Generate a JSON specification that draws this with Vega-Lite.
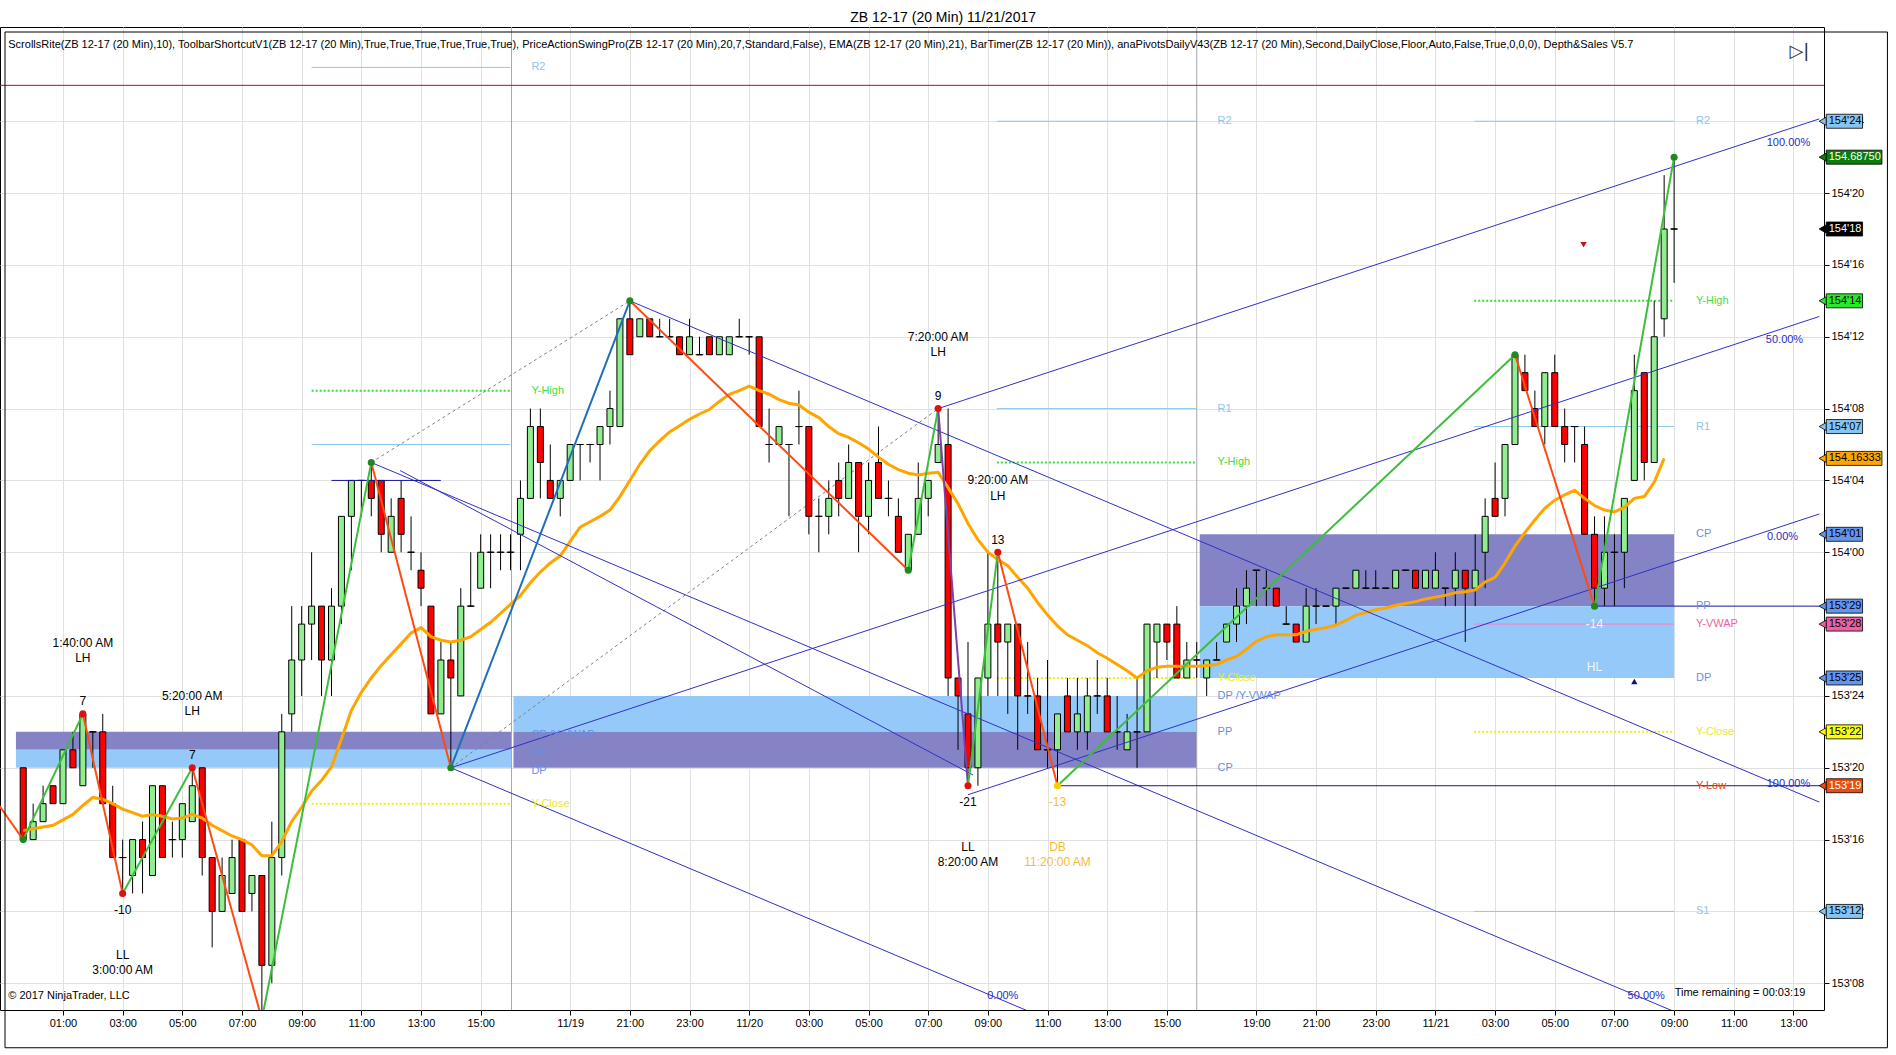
{
"$schema":"https://vega.github.io/schema/vega-lite/v6.json",
"width":1824,"height":983,"autosize":"none",
"padding":{"left":0,"top":27,"right":72,"bottom":45},
"background":"white",
"config":{"view":{"stroke":"#000000","strokeWidth":1},"axis":{"labelFont":"Liberation Sans","titleOpacity":0},"text":{"font":"Liberation Sans"}},
"resolve":{"scale":{"color":"independent","fill":"independent"}},
"datasets":{
"zones":[
{"i":-0.73,"i2":49.1,"p":153.6875,"p2":153.65625,"k":"pz"},
{"i":-0.73,"i2":49.1,"p":153.65625,"p2":153.625,"k":"bz"},
{"i":49.3,"i2":118.0,"p":153.75,"p2":153.6875,"k":"bz"},
{"i":49.3,"i2":118.0,"p":153.6875,"p2":153.625,"k":"pz"},
{"i":118.3,"i2":166.0,"p":154.03125,"p2":153.90625,"k":"pz"},
{"i":118.3,"i2":166.0,"p":153.90625,"p2":153.78125,"k":"bz"}],
"pivS":[
{"i":29.0,"i2":48.97,"p":154.84375,"k":"R"},
{"i":29.0,"i2":48.97,"p":154.1875,"k":"R"},
{"i":97.9,"i2":118.0,"p":154.75,"k":"R"},
{"i":97.9,"i2":118.0,"p":154.25,"k":"R"},
{"i":145.9,"i2":166.0,"p":154.75,"k":"R"},
{"i":145.9,"i2":166.0,"p":154.21875,"k":"R"},
{"i":145.9,"i2":166.0,"p":153.375,"k":"R"},
{"i":145.9,"i2":166.0,"p":153.875,"k":"vw"}],
"pivD":[
{"i":29.0,"i2":48.97,"p":154.28125,"k":"yh"},
{"i":29.0,"i2":48.97,"p":153.5625,"k":"yc"},
{"i":97.9,"i2":118.0,"p":154.15625,"k":"yh"},
{"i":97.9,"i2":118.0,"p":153.78125,"k":"yc"},
{"i":145.9,"i2":166.0,"p":154.4375,"k":"yh"},
{"i":145.9,"i2":166.0,"p":153.6875,"k":"yc"}],
"bars":[
{"i":0,"o":153.625,"h":153.625,"l":153.5,"c":153.5},
{"i":1,"o":153.5,"h":153.5625,"l":153.5,"c":153.53125},
{"i":2,"o":153.53125,"h":153.59375,"l":153.53125,"c":153.5625},
{"i":3,"o":153.59375,"h":153.59375,"l":153.5625,"c":153.5625},
{"i":4,"o":153.5625,"h":153.65625,"l":153.5625,"c":153.65625},
{"i":5,"o":153.65625,"h":153.6875,"l":153.625,"c":153.625},
{"i":6,"o":153.59375,"h":153.71875,"l":153.59375,"c":153.71875},
{"i":7,"o":153.6875,"h":153.6875,"l":153.625,"c":153.6875},
{"i":8,"o":153.6875,"h":153.71875,"l":153.5625,"c":153.5625},
{"i":9,"o":153.5625,"h":153.59375,"l":153.46875,"c":153.46875},
{"i":10,"o":153.46875,"h":153.5,"l":153.40625,"c":153.46875},
{"i":11,"o":153.4375,"h":153.5,"l":153.40625,"c":153.5},
{"i":12,"o":153.5,"h":153.53125,"l":153.40625,"c":153.46875},
{"i":13,"o":153.4375,"h":153.59375,"l":153.4375,"c":153.59375},
{"i":14,"o":153.59375,"h":153.59375,"l":153.46875,"c":153.46875},
{"i":15,"o":153.5,"h":153.53125,"l":153.46875,"c":153.5},
{"i":16,"o":153.5,"h":153.5625,"l":153.46875,"c":153.5625},
{"i":17,"o":153.53125,"h":153.625,"l":153.53125,"c":153.59375},
{"i":18,"o":153.625,"h":153.625,"l":153.4375,"c":153.46875},
{"i":19,"o":153.46875,"h":153.46875,"l":153.3125,"c":153.375},
{"i":20,"o":153.375,"h":153.46875,"l":153.375,"c":153.4375},
{"i":21,"o":153.40625,"h":153.5,"l":153.40625,"c":153.46875},
{"i":22,"o":153.5,"h":153.5,"l":153.375,"c":153.375},
{"i":23,"o":153.40625,"h":153.4375,"l":153.375,"c":153.4375},
{"i":24,"o":153.4375,"h":153.4375,"l":153.1875,"c":153.28125},
{"i":25,"o":153.28125,"h":153.53125,"l":153.25,"c":153.46875},
{"i":26,"o":153.46875,"h":153.71875,"l":153.4375,"c":153.6875},
{"i":27,"o":153.71875,"h":153.90625,"l":153.6875,"c":153.8125},
{"i":28,"o":153.8125,"h":153.90625,"l":153.75,"c":153.875},
{"i":29,"o":153.875,"h":154,"l":153.8125,"c":153.90625},
{"i":30,"o":153.90625,"h":153.90625,"l":153.75,"c":153.8125},
{"i":31,"o":153.8125,"h":153.9375,"l":153.75,"c":153.90625},
{"i":32,"o":153.90625,"h":154.0625,"l":153.875,"c":154.0625},
{"i":33,"o":154.0625,"h":154.125,"l":153.96875,"c":154.125},
{"i":34,"o":154.125,"h":154.125,"l":154.0625,"c":154.125},
{"i":35,"o":154.125,"h":154.15625,"l":154.0625,"c":154.09375},
{"i":36,"o":154.125,"h":154.125,"l":154,"c":154.03125},
{"i":37,"o":154,"h":154.09375,"l":154,"c":154.0625},
{"i":38,"o":154.09375,"h":154.125,"l":154,"c":154.03125},
{"i":39,"o":154,"h":154.0625,"l":153.96875,"c":154},
{"i":40,"o":153.96875,"h":154,"l":153.90625,"c":153.9375},
{"i":41,"o":153.90625,"h":153.90625,"l":153.71875,"c":153.71875},
{"i":42,"o":153.71875,"h":153.84375,"l":153.71875,"c":153.8125},
{"i":43,"o":153.8125,"h":153.84375,"l":153.625,"c":153.78125},
{"i":44,"o":153.75,"h":153.9375,"l":153.75,"c":153.90625},
{"i":45,"o":153.90625,"h":154,"l":153.90625,"c":153.90625},
{"i":46,"o":153.9375,"h":154.03125,"l":153.9375,"c":154},
{"i":47,"o":154,"h":154.03125,"l":153.9375,"c":154},
{"i":48,"o":154,"h":154.03125,"l":153.96875,"c":154},
{"i":49,"o":154,"h":154.03125,"l":153.96875,"c":154},
{"i":50,"o":154.03125,"h":154.125,"l":153.96875,"c":154.09375},
{"i":51,"o":154.09375,"h":154.25,"l":154.09375,"c":154.21875},
{"i":52,"o":154.21875,"h":154.25,"l":154.09375,"c":154.15625},
{"i":53,"o":154.125,"h":154.1875,"l":154.09375,"c":154.09375},
{"i":54,"o":154.09375,"h":154.125,"l":154.0625,"c":154.125},
{"i":55,"o":154.125,"h":154.1875,"l":154.125,"c":154.1875},
{"i":56,"o":154.1875,"h":154.1875,"l":154.125,"c":154.1875},
{"i":57,"o":154.1875,"h":154.1875,"l":154.15625,"c":154.1875},
{"i":58,"o":154.1875,"h":154.21875,"l":154.125,"c":154.21875},
{"i":59,"o":154.21875,"h":154.28125,"l":154.1875,"c":154.25},
{"i":60,"o":154.21875,"h":154.40625,"l":154.21875,"c":154.40625},
{"i":61,"o":154.40625,"h":154.4375,"l":154.34375,"c":154.34375},
{"i":62,"o":154.375,"h":154.40625,"l":154.375,"c":154.40625},
{"i":63,"o":154.40625,"h":154.40625,"l":154.375,"c":154.375},
{"i":64,"o":154.375,"h":154.40625,"l":154.375,"c":154.375},
{"i":65,"o":154.375,"h":154.40625,"l":154.375,"c":154.375},
{"i":66,"o":154.375,"h":154.375,"l":154.34375,"c":154.34375},
{"i":67,"o":154.34375,"h":154.40625,"l":154.34375,"c":154.375},
{"i":68,"o":154.34375,"h":154.375,"l":154.34375,"c":154.34375},
{"i":69,"o":154.375,"h":154.375,"l":154.34375,"c":154.34375},
{"i":70,"o":154.34375,"h":154.375,"l":154.34375,"c":154.375},
{"i":71,"o":154.34375,"h":154.375,"l":154.34375,"c":154.375},
{"i":72,"o":154.375,"h":154.40625,"l":154.375,"c":154.375},
{"i":73,"o":154.375,"h":154.375,"l":154.34375,"c":154.375},
{"i":74,"o":154.375,"h":154.375,"l":154.21875,"c":154.21875},
{"i":75,"o":154.1875,"h":154.25,"l":154.15625,"c":154.1875},
{"i":76,"o":154.1875,"h":154.21875,"l":154.1875,"c":154.21875},
{"i":77,"o":154.1875,"h":154.1875,"l":154.0625,"c":154.1875},
{"i":78,"o":154.21875,"h":154.28125,"l":154.1875,"c":154.21875},
{"i":79,"o":154.21875,"h":154.21875,"l":154.03125,"c":154.0625},
{"i":80,"o":154.0625,"h":154.09375,"l":154,"c":154.0625},
{"i":81,"o":154.0625,"h":154.125,"l":154.03125,"c":154.09375},
{"i":82,"o":154.125,"h":154.15625,"l":154.0625,"c":154.09375},
{"i":83,"o":154.09375,"h":154.1875,"l":154.09375,"c":154.15625},
{"i":84,"o":154.15625,"h":154.15625,"l":154,"c":154.0625},
{"i":85,"o":154.0625,"h":154.15625,"l":154.03125,"c":154.125},
{"i":86,"o":154.15625,"h":154.21875,"l":154.09375,"c":154.09375},
{"i":87,"o":154.09375,"h":154.125,"l":154.0625,"c":154.09375},
{"i":88,"o":154.0625,"h":154.09375,"l":154,"c":154},
{"i":89,"o":153.96875,"h":154.03125,"l":153.96875,"c":154.03125},
{"i":90,"o":154.03125,"h":154.15625,"l":154.03125,"c":154.09375},
{"i":91,"o":154.09375,"h":154.125,"l":154.0625,"c":154.125},
{"i":92,"o":154.15625,"h":154.25,"l":154.15625,"c":154.1875},
{"i":93,"o":154.1875,"h":154.25,"l":153.75,"c":153.78125},
{"i":94,"o":153.78125,"h":153.78125,"l":153.65625,"c":153.75},
{"i":95,"o":153.71875,"h":153.84375,"l":153.59375,"c":153.625},
{"i":96,"o":153.625,"h":153.78125,"l":153.59375,"c":153.78125},
{"i":97,"o":153.78125,"h":154,"l":153.75,"c":153.875},
{"i":98,"o":153.875,"h":154,"l":153.75,"c":153.84375},
{"i":99,"o":153.84375,"h":153.875,"l":153.71875,"c":153.875},
{"i":100,"o":153.875,"h":153.875,"l":153.65625,"c":153.75},
{"i":101,"o":153.75,"h":153.84375,"l":153.71875,"c":153.75},
{"i":102,"o":153.75,"h":153.78125,"l":153.65625,"c":153.65625},
{"i":103,"o":153.65625,"h":153.8125,"l":153.625,"c":153.65625},
{"i":104,"o":153.65625,"h":153.71875,"l":153.59375,"c":153.71875},
{"i":105,"o":153.75,"h":153.78125,"l":153.6875,"c":153.6875},
{"i":106,"o":153.6875,"h":153.78125,"l":153.65625,"c":153.71875},
{"i":107,"o":153.6875,"h":153.78125,"l":153.65625,"c":153.75},
{"i":108,"o":153.75,"h":153.8125,"l":153.71875,"c":153.75},
{"i":109,"o":153.75,"h":153.78125,"l":153.6875,"c":153.6875},
{"i":110,"o":153.6875,"h":153.75,"l":153.65625,"c":153.6875},
{"i":111,"o":153.65625,"h":153.71875,"l":153.65625,"c":153.6875},
{"i":112,"o":153.6875,"h":153.78125,"l":153.625,"c":153.6875},
{"i":113,"o":153.6875,"h":153.875,"l":153.6875,"c":153.875},
{"i":114,"o":153.84375,"h":153.875,"l":153.78125,"c":153.875},
{"i":115,"o":153.875,"h":153.875,"l":153.8125,"c":153.84375},
{"i":116,"o":153.875,"h":153.90625,"l":153.78125,"c":153.78125},
{"i":117,"o":153.78125,"h":153.84375,"l":153.78125,"c":153.8125},
{"i":118,"o":153.8125,"h":153.84375,"l":153.78125,"c":153.8125},
{"i":119,"o":153.78125,"h":153.8125,"l":153.75,"c":153.8125},
{"i":120,"o":153.8125,"h":153.84375,"l":153.8125,"c":153.8125},
{"i":121,"o":153.84375,"h":153.875,"l":153.84375,"c":153.875},
{"i":122,"o":153.875,"h":153.9375,"l":153.84375,"c":153.90625},
{"i":123,"o":153.90625,"h":153.96875,"l":153.875,"c":153.9375},
{"i":124,"o":153.96875,"h":153.96875,"l":153.90625,"c":153.96875},
{"i":125,"o":153.9375,"h":153.96875,"l":153.90625,"c":153.9375},
{"i":126,"o":153.9375,"h":153.9375,"l":153.90625,"c":153.90625},
{"i":127,"o":153.875,"h":153.90625,"l":153.875,"c":153.875},
{"i":128,"o":153.875,"h":153.875,"l":153.84375,"c":153.84375},
{"i":129,"o":153.84375,"h":153.9375,"l":153.84375,"c":153.90625},
{"i":130,"o":153.90625,"h":153.9375,"l":153.875,"c":153.90625},
{"i":131,"o":153.90625,"h":153.90625,"l":153.90625,"c":153.90625},
{"i":132,"o":153.90625,"h":153.9375,"l":153.875,"c":153.9375},
{"i":133,"o":153.9375,"h":153.9375,"l":153.9375,"c":153.9375},
{"i":134,"o":153.9375,"h":153.96875,"l":153.9375,"c":153.96875},
{"i":135,"o":153.9375,"h":153.96875,"l":153.9375,"c":153.9375},
{"i":136,"o":153.9375,"h":153.96875,"l":153.9375,"c":153.9375},
{"i":137,"o":153.9375,"h":153.9375,"l":153.9375,"c":153.9375},
{"i":138,"o":153.9375,"h":153.96875,"l":153.9375,"c":153.96875},
{"i":139,"o":153.96875,"h":153.96875,"l":153.96875,"c":153.96875},
{"i":140,"o":153.96875,"h":153.96875,"l":153.9375,"c":153.9375},
{"i":141,"o":153.9375,"h":153.96875,"l":153.9375,"c":153.96875},
{"i":142,"o":153.9375,"h":154,"l":153.9375,"c":153.96875},
{"i":143,"o":153.9375,"h":153.9375,"l":153.90625,"c":153.9375},
{"i":144,"o":153.9375,"h":154,"l":153.90625,"c":153.96875},
{"i":145,"o":153.96875,"h":153.96875,"l":153.84375,"c":153.9375},
{"i":146,"o":153.9375,"h":154.03125,"l":153.90625,"c":153.96875},
{"i":147,"o":154,"h":154.09375,"l":153.9375,"c":154.0625},
{"i":148,"o":154.09375,"h":154.15625,"l":154.0625,"c":154.0625},
{"i":149,"o":154.09375,"h":154.1875,"l":154.0625,"c":154.1875},
{"i":150,"o":154.1875,"h":154.34375,"l":154.1875,"c":154.34375},
{"i":151,"o":154.3125,"h":154.34375,"l":154.28125,"c":154.28125},
{"i":152,"o":154.25,"h":154.28125,"l":154.21875,"c":154.21875},
{"i":153,"o":154.21875,"h":154.3125,"l":154.1875,"c":154.3125},
{"i":154,"o":154.3125,"h":154.34375,"l":154.21875,"c":154.21875},
{"i":155,"o":154.21875,"h":154.25,"l":154.15625,"c":154.1875},
{"i":156,"o":154.21875,"h":154.21875,"l":154.15625,"c":154.21875},
{"i":157,"o":154.1875,"h":154.21875,"l":154.03125,"c":154.03125},
{"i":158,"o":154.03125,"h":154.0625,"l":153.90625,"c":153.9375},
{"i":159,"o":153.9375,"h":154.0625,"l":153.90625,"c":154},
{"i":160,"o":154,"h":154.03125,"l":153.90625,"c":154},
{"i":161,"o":154,"h":154.09375,"l":153.9375,"c":154.09375},
{"i":162,"o":154.125,"h":154.34375,"l":154.125,"c":154.28125},
{"i":163,"o":154.3125,"h":154.3125,"l":154.125,"c":154.15625},
{"i":164,"o":154.15625,"h":154.4375,"l":154.15625,"c":154.375},
{"i":165,"o":154.40625,"h":154.65625,"l":154.375,"c":154.5625},
{"i":166,"o":154.5625,"h":154.6875,"l":154.46875,"c":154.5625}],
"ema":[
{"i":0,"p":153.5156},{"i":1,"p":153.5188},{"i":2,"p":153.5219},{"i":3,"p":153.525},{"i":4,"p":153.5344},{"i":5,"p":153.5438},{"i":6,"p":153.5594},{"i":7,"p":153.5734},{"i":8,"p":153.5703},{"i":9,"p":153.5625},
{"i":10,"p":153.5531},{"i":11,"p":153.5469},{"i":12,"p":153.5406},{"i":13,"p":153.5438},{"i":14,"p":153.5406},{"i":15,"p":153.5359},{"i":16,"p":153.5375},{"i":17,"p":153.5438},{"i":18,"p":153.5375},{"i":19,"p":153.525},
{"i":20,"p":153.5156},{"i":21,"p":153.5063},{"i":22,"p":153.5},{"i":23,"p":153.4906},{"i":24,"p":153.4719},{"i":25,"p":153.4719},{"i":26,"p":153.4969},{"i":27,"p":153.5313},{"i":28,"p":153.5563},{"i":29,"p":153.5844},
{"i":30,"p":153.6031},{"i":31,"p":153.6266},{"i":32,"p":153.675},{"i":33,"p":153.725},{"i":34,"p":153.7563},{"i":35,"p":153.7813},{"i":36,"p":153.8031},{"i":37,"p":153.8219},{"i":38,"p":153.8406},{"i":39,"p":153.8594},
{"i":40,"p":153.8688},{"i":41,"p":153.8531},{"i":42,"p":153.8469},{"i":43,"p":153.8438},{"i":44,"p":153.8469},{"i":45,"p":153.8531},{"i":46,"p":153.8656},{"i":47,"p":153.8781},{"i":48,"p":153.8938},{"i":49,"p":153.9094},
{"i":50,"p":153.925},{"i":51,"p":153.9469},{"i":52,"p":153.9656},{"i":53,"p":153.9813},{"i":54,"p":153.9938},{"i":55,"p":154.0188},{"i":56,"p":154.0438},{"i":57,"p":154.0531},{"i":58,"p":154.0625},{"i":59,"p":154.0734},
{"i":60,"p":154.0969},{"i":61,"p":154.125},{"i":62,"p":154.1531},{"i":63,"p":154.1766},{"i":64,"p":154.1938},{"i":65,"p":154.2094},{"i":66,"p":154.2203},{"i":67,"p":154.2313},{"i":68,"p":154.2406},{"i":69,"p":154.2484},
{"i":70,"p":154.2625},{"i":71,"p":154.275},{"i":72,"p":154.2813},{"i":73,"p":154.2891},{"i":74,"p":154.2813},{"i":75,"p":154.275},{"i":76,"p":154.2656},{"i":77,"p":154.2594},{"i":78,"p":154.2563},{"i":79,"p":154.2438},
{"i":80,"p":154.2344},{"i":81,"p":154.2188},{"i":82,"p":154.2063},{"i":83,"p":154.2},{"i":84,"p":154.1906},{"i":85,"p":154.1797},{"i":86,"p":154.1656},{"i":87,"p":154.1531},{"i":88,"p":154.1438},{"i":89,"p":154.1375},
{"i":90,"p":154.1344},{"i":91,"p":154.1375},{"i":92,"p":154.1391},{"i":93,"p":154.1125},{"i":94,"p":154.0844},{"i":95,"p":154.05},{"i":96,"p":154.0219},{"i":97,"p":154.0},{"i":98,"p":153.9875},{"i":99,"p":153.9766},
{"i":100,"p":153.9563},{"i":101,"p":153.9375},{"i":102,"p":153.9125},{"i":103,"p":153.8906},{"i":104,"p":153.8719},{"i":105,"p":153.8563},{"i":106,"p":153.8469},{"i":107,"p":153.8375},{"i":108,"p":153.825},{"i":109,"p":153.8156},
{"i":110,"p":153.8047},{"i":111,"p":153.7938},{"i":112,"p":153.7813},{"i":113,"p":153.7938},{"i":114,"p":153.8},{"i":115,"p":153.8016},{"i":116,"p":153.8016},{"i":117,"p":153.8016},{"i":118,"p":153.8016},{"i":119,"p":153.8031},
{"i":120,"p":153.8047},{"i":121,"p":153.8125},{"i":122,"p":153.8188},{"i":123,"p":153.8313},{"i":124,"p":153.8453},{"i":125,"p":153.8531},{"i":126,"p":153.8563},{"i":127,"p":153.8563},{"i":128,"p":153.8563},{"i":129,"p":153.8625},
{"i":130,"p":153.8656},{"i":131,"p":153.8688},{"i":132,"p":153.8734},{"i":133,"p":153.8813},{"i":134,"p":153.8906},{"i":135,"p":153.8953},{"i":136,"p":153.9},{"i":137,"p":153.9031},{"i":138,"p":153.9078},{"i":139,"p":153.9109},
{"i":140,"p":153.9141},{"i":141,"p":153.9188},{"i":142,"p":153.9219},{"i":143,"p":153.925},{"i":144,"p":153.9297},{"i":145,"p":153.9313},{"i":146,"p":153.9344},{"i":147,"p":153.9484},{"i":148,"p":153.9563},{"i":149,"p":153.9813},
{"i":150,"p":154.0109},{"i":151,"p":154.0344},{"i":152,"p":154.0563},{"i":153,"p":154.0766},{"i":154,"p":154.0906},{"i":155,"p":154.1},{"i":156,"p":154.1078},{"i":157,"p":154.0938},{"i":158,"p":154.0813},{"i":159,"p":154.0734},
{"i":160,"p":154.0703},{"i":161,"p":154.0781},{"i":162,"p":154.0938},{"i":163,"p":154.0969},{"i":164,"p":154.1219},{"i":165,"p":154.16333}],
"dash":[
{"s":"a","i":35,"p":154.15625},{"s":"a","i":61,"p":154.4375},
{"s":"b","i":43,"p":153.625},{"s":"b","i":92,"p":154.25}],
"chan":[
{"id":"U100","g":"fib","i":92,"p":154.25},{"id":"U100","g":"fib","i":180.6,"p":154.7541},
{"id":"U50","g":"fib","i":43,"p":153.625},{"id":"U50","g":"fib","i":180.6,"p":154.4103},
{"id":"U0","g":"fib","i":95,"p":153.5781},{"id":"U0","g":"fib","i":180.6,"p":154.0666},
{"id":"D100","g":"fib","i":61,"p":154.4375},{"id":"D100","g":"fib","i":180.6,"p":153.5653},
{"id":"D50","g":"fib","i":35,"p":154.15625},{"id":"D50","g":"fib","i":180.6,"p":153.0944},
{"id":"D0","g":"fib","i":43,"p":153.625},{"id":"D0","g":"fib","i":120,"p":153.0634},
{"id":"Q","g":"fib","i":37.9,"p":154.1422},{"id":"Q","g":"fib","i":95.5,"p":153.6125},
{"id":"H4","g":"hz","i":31,"p":154.125},{"id":"H4","g":"hz","i":42,"p":154.125},
{"id":"HL13","g":"hz","i":104,"p":153.59375},{"id":"HL13","g":"hz","i":180.6,"p":153.59375},
{"id":"HL3","g":"hz","i":158,"p":153.90625},{"id":"HL3","g":"hz","i":180.6,"p":153.90625}],
"zig":[
{"s":0,"d":"down","i":-3,"p":153.5738},{"s":0,"d":"down","i":0,"p":153.5},
{"s":1,"d":"up","i":0,"p":153.5},{"s":1,"d":"up","i":6,"p":153.71875},
{"s":2,"d":"down","i":6,"p":153.71875},{"s":2,"d":"down","i":10,"p":153.40625},
{"s":3,"d":"up","i":10,"p":153.40625},{"s":3,"d":"up","i":17,"p":153.625},
{"s":4,"d":"down","i":17,"p":153.625},{"s":4,"d":"down","i":24,"p":153.1875},
{"s":5,"d":"up","i":24,"p":153.1875},{"s":5,"d":"up","i":35,"p":154.15625},
{"s":6,"d":"down","i":35,"p":154.15625},{"s":6,"d":"down","i":43,"p":153.625},
{"s":7,"d":"up2","i":43,"p":153.625},{"s":7,"d":"up2","i":61,"p":154.4375},
{"s":8,"d":"down","i":61,"p":154.4375},{"s":8,"d":"down","i":89,"p":153.96875},
{"s":9,"d":"up","i":89,"p":153.96875},{"s":9,"d":"up","i":92,"p":154.25},
{"s":10,"d":"down2","i":92,"p":154.25},{"s":10,"d":"down2","i":95,"p":153.59375},
{"s":11,"d":"up","i":95,"p":153.59375},{"s":11,"d":"up","i":98,"p":154},
{"s":12,"d":"down","i":98,"p":154},{"s":12,"d":"down","i":104,"p":153.59375},
{"s":13,"d":"up","i":104,"p":153.59375},{"s":13,"d":"up","i":150,"p":154.34375},
{"s":14,"d":"down","i":150,"p":154.34375},{"s":14,"d":"down","i":158,"p":153.90625},
{"s":15,"d":"up","i":158,"p":153.90625},{"s":15,"d":"up","i":166,"p":154.6875}],
"dots":[
{"i":0,"p":153.5,"k":"up"},{"i":6,"p":153.71875,"k":"down"},{"i":10,"p":153.40625,"k":"down"},{"i":17,"p":153.625,"k":"down"},
{"i":35,"p":154.15625,"k":"up"},{"i":43,"p":153.625,"k":"up"},{"i":61,"p":154.4375,"k":"up"},{"i":89,"p":153.96875,"k":"up"},
{"i":92,"p":154.25,"k":"down"},{"i":95,"p":153.59375,"k":"down"},{"i":98,"p":154,"k":"down"},{"i":104,"p":153.59375,"k":"db"},
{"i":150,"p":154.34375,"k":"up"},{"i":158,"p":153.90625,"k":"up"},{"i":166,"p":154.6875,"k":"up"}],
"sw":[
{"i":6,"p":153.7406,"t":"7","g":"s"},{"i":6,"p":153.8425,"t":"1:40:00 AM","g":"s"},{"i":6,"p":153.8166,"t":"LH","g":"s"},
{"i":10,"p":153.3781,"t":"-10","g":"s"},{"i":10,"p":153.3,"t":"LL","g":"s"},{"i":10,"p":153.2734,"t":"3:00:00 AM","g":"s"},
{"i":17,"p":153.6469,"t":"7","g":"s"},{"i":17,"p":153.75,"t":"5:20:00 AM","g":"s"},{"i":17,"p":153.7234,"t":"LH","g":"s"},
{"i":92,"p":154.2719,"t":"9","g":"s"},{"i":92,"p":154.375,"t":"7:20:00 AM","g":"s"},{"i":92,"p":154.3478,"t":"LH","g":"s"},
{"i":95,"p":153.5656,"t":"-21","g":"s"},{"i":95,"p":153.4875,"t":"LL","g":"s"},{"i":95,"p":153.4609,"t":"8:20:00 AM","g":"s"},
{"i":98,"p":154.0219,"t":"13","g":"s"},{"i":98,"p":154.125,"t":"9:20:00 AM","g":"s"},{"i":98,"p":154.0981,"t":"LH","g":"s"},
{"i":104,"p":153.5656,"t":"-13","g":"db"},{"i":104,"p":153.4875,"t":"DB","g":"db"},{"i":104,"p":153.4609,"t":"11:20:00 AM","g":"db"},
{"i":158,"p":153.875,"t":"-14","g":"hl"},{"i":158,"p":153.8,"t":"HL","g":"hl"}],
"pl":[
{"i":51.1,"p":154.84375,"t":"R2","k":"R"},{"i":51.1,"p":154.28125,"t":"Y-High","k":"yh"},{"i":51.1,"p":153.5625,"t":"Y-Close","k":"yc"},
{"i":51.1,"p":153.6825,"t":"CP /Y-VWAP","k":"pv"},{"i":51.1,"p":153.6509,"t":"PP","k":"pv"},{"i":51.1,"p":153.6191,"t":"DP","k":"pv"},
{"i":120.1,"p":154.75,"t":"R2","k":"R"},{"i":120.1,"p":154.25,"t":"R1","k":"R"},{"i":120.1,"p":154.15625,"t":"Y-High","k":"yh"},
{"i":120.1,"p":153.78125,"t":"Y-Close","k":"yc"},{"i":120.1,"p":153.75,"t":"DP /Y-VWAP","k":"pv"},{"i":120.1,"p":153.6875,"t":"PP","k":"pv"},{"i":120.1,"p":153.625,"t":"CP","k":"pv"},
{"i":168.2,"p":154.75,"t":"R2","k":"R"},{"i":168.2,"p":154.4375,"t":"Y-High","k":"yh"},{"i":168.2,"p":154.21875,"t":"R1","k":"R"},
{"i":168.2,"p":154.03125,"t":"CP","k":"pv"},{"i":168.2,"p":153.90625,"t":"PP","k":"pv"},{"i":168.2,"p":153.875,"t":"Y-VWAP","k":"vw"},
{"i":168.2,"p":153.78125,"t":"DP","k":"pv"},{"i":168.2,"p":153.6875,"t":"Y-Close","k":"yc"},{"i":168.2,"p":153.59375,"t":"Y-Low","k":"yl"},{"i":168.2,"p":153.375,"t":"S1","k":"R"}],
"fl":[
{"i":177.5,"p":154.7125,"t":"100.00%"},{"i":177.1,"p":154.3688,"t":"50.00%"},{"i":176.9,"p":154.0272,"t":"0.00%"},
{"i":177.5,"p":153.5969,"t":"100.00%"},{"i":163.2,"p":153.2281,"t":"50.00%"},{"i":98.5,"p":153.2281,"t":"0.00%"}],
"flags":[
{"p":154.75,"lbl":"154'24","k":"R"},{"p":154.6875,"lbl":"154.68750","k":"sw"},{"p":154.5625,"lbl":"154'18","k":"last"},
{"p":154.4375,"lbl":"154'14","k":"yh"},{"p":154.21875,"lbl":"154'07","k":"R"},{"p":154.16333,"lbl":"154.16333","k":"ema"},
{"p":154.03125,"lbl":"154'01","k":"piv"},{"p":153.90625,"lbl":"153'29","k":"piv"},{"p":153.875,"lbl":"153'28","k":"vwap"},
{"p":153.78125,"lbl":"153'25","k":"piv"},{"p":153.6875,"lbl":"153'22","k":"yc"},{"p":153.59375,"lbl":"153'19","k":"yl"},
{"p":153.375,"lbl":"153'12","k":"R"}]
},
"layer":[
{"data":{"name":"zones"},"mark":{"type":"rect","clip":true},
 "encoding":{
  "x":{"field":"i","type":"quantitative","scale":{"domain":[-1.83,180.57],"nice":false,"zero":false},
   "axis":{"title":null,"orient":"bottom","values":[4,10,16,22,28,34,40,46,55,61,67,73,79,85,91,97,103,109,115,124,130,136,142,148,154,160,166,172,178],
    "labelExpr":"['01:00','03:00','05:00','07:00','09:00','11:00','13:00','15:00','11/19','21:00','23:00','11/20','03:00','05:00','07:00','09:00','11:00','13:00','15:00','19:00','21:00','23:00','11/21','03:00','05:00','07:00','09:00','11:00','13:00'][indexof([4,10,16,22,28,34,40,46,55,61,67,73,79,85,91,97,103,109,115,124,130,136,142,148,154,160,166,172,178], datum.value)]",
    "grid":true,"gridColor":"#E1E1E1","tickColor":"#000","tickSize":5,"labelFontSize":11,"labelColor":"#000","labelPadding":2,"domain":false,"labelOverlap":false,"labelFlush":false,"zindex":0}},
  "x2":{"field":"i2"},
  "y":{"field":"p","type":"quantitative","scale":{"domain":[153.21219,154.90531],"nice":false,"zero":false},
   "axis":{"title":null,"orient":"right","values":[153.25,153.375,153.5,153.625,153.75,154,154.125,154.25,154.375,154.5,154.625,154.75],
    "labelExpr":"floor(datum.value) + \"'\" + (round((datum.value - floor(datum.value)) * 32) < 10 ? '0' : '') + round((datum.value - floor(datum.value)) * 32)",
    "grid":true,"gridColor":"#E1E1E1","tickColor":"#000","tickSize":5,"labelFontSize":11,"labelColor":"#000","labelPadding":2,"domain":false,"labelOverlap":false,"labelFlush":false,"zindex":0}},
  "y2":{"field":"p2"},
  "color":{"field":"k","type":"nominal","scale":{"domain":["pz","bz"],"range":["#8383C6","#95C9FA"]},"legend":null}}},
{"data":{"values":[{"i":49.1},{"i":118.0}]},"mark":{"type":"rule","color":"#A9A9A9","strokeWidth":1},
 "encoding":{"x":{"field":"i","type":"quantitative"}}},
{"data":{"values":[{}]},"mark":{"type":"rule","color":"#B01020","strokeWidth":1},
 "encoding":{"y":{"datum":154.8125}}},
{"data":{"name":"pivS"},"mark":{"type":"rule","strokeWidth":1,"clip":true},
 "encoding":{"x":{"field":"i","type":"quantitative"},"x2":{"field":"i2"},"y":{"field":"p","type":"quantitative"},
  "color":{"field":"k","type":"nominal","scale":{"domain":["R","vw"],"range":["#8BC8EC","#FF7AC0"]},"legend":null}}},
{"data":{"name":"pivD"},"mark":{"type":"rule","strokeWidth":2,"strokeDash":[2,2],"clip":true},
 "encoding":{"x":{"field":"i","type":"quantitative"},"x2":{"field":"i2"},"y":{"field":"p","type":"quantitative"},
  "color":{"field":"k","type":"nominal","scale":{"domain":["yh","yc"],"range":["#3CDC3C","#EEEE10"]},"legend":null}}},
{"data":{"name":"dash"},"mark":{"type":"line","color":"#808080","strokeWidth":1,"strokeDash":[3,3],"clip":true},
 "encoding":{"x":{"field":"i","type":"quantitative"},"y":{"field":"p","type":"quantitative"},"detail":{"field":"s"}}},
{"data":{"name":"bars"},"mark":{"type":"rule","color":"#000","strokeWidth":1,"clip":true},
 "encoding":{"x":{"field":"i","type":"quantitative"},"y":{"field":"l","type":"quantitative"},"y2":{"field":"h"}}},
{"data":{"name":"bars"},"mark":{"type":"bar","width":6,"stroke":"#000","strokeWidth":1,"clip":true},
 "encoding":{"x":{"field":"i","type":"quantitative"},"y":{"field":"o","type":"quantitative"},"y2":{"field":"c"},
  "fill":{"condition":{"test":"datum.c > datum.o","value":"#90EE90"},"value":"#FF0000"}}},
{"data":{"name":"bars"},"transform":[{"filter":"datum.o == datum.c"}],"mark":{"type":"tick","orient":"horizontal","size":8,"thickness":1,"color":"#000","clip":true},
 "encoding":{"x":{"field":"i","type":"quantitative"},"y":{"field":"o","type":"quantitative"}}},
{"data":{"name":"ema"},"mark":{"type":"line","color":"#FFA500","strokeWidth":3,"clip":true},
 "encoding":{"x":{"field":"i","type":"quantitative"},"y":{"field":"p","type":"quantitative"}}},
{"data":{"name":"chan"},"mark":{"type":"line","strokeWidth":1,"clip":true},
 "encoding":{"x":{"field":"i","type":"quantitative"},"y":{"field":"p","type":"quantitative"},"detail":{"field":"id"},
  "color":{"field":"g","type":"nominal","scale":{"domain":["fib","hz"],"range":["#3030C8","#16169E"]},"legend":null}}},
{"data":{"name":"zig"},"mark":{"type":"line","strokeWidth":2,"clip":true},
 "encoding":{"x":{"field":"i","type":"quantitative"},"y":{"field":"p","type":"quantitative"},"detail":{"field":"s"},
  "color":{"field":"d","type":"nominal","scale":{"domain":["up","down","up2","down2"],"range":["#3CBE3C","#FF4A12","#1F6FB8","#7E3FA8"]},"legend":null}}},
{"data":{"name":"dots"},"mark":{"type":"point","filled":true,"size":50,"opacity":1,"clip":true},
 "encoding":{"x":{"field":"i","type":"quantitative"},"y":{"field":"p","type":"quantitative"},
  "color":{"field":"k","type":"nominal","scale":{"domain":["up","down","db"],"range":["#1E8A1E","#E01010","#F5D000"]},"legend":null}}},
{"data":{"values":[{"i":156.9,"p":154.5353,"k":"dn"},{"i":162.0,"p":153.7753,"k":"up"}]},"mark":{"type":"point","filled":true,"size":40,"opacity":1},
 "encoding":{"x":{"field":"i","type":"quantitative"},"y":{"field":"p","type":"quantitative"},
  "shape":{"field":"k","type":"nominal","scale":{"domain":["dn","up"],"range":["triangle-down","triangle-up"]},"legend":null},
  "color":{"field":"k","type":"nominal","scale":{"domain":["dn","up"],"range":["#C01818","#101080"]},"legend":null}}},
{"data":{"name":"sw"},"mark":{"type":"text","fontSize":12,"font":"Liberation Sans","align":"center","baseline":"middle"},
 "encoding":{"x":{"field":"i","type":"quantitative"},"y":{"field":"p","type":"quantitative"},"text":{"field":"t"},
  "color":{"field":"g","type":"nominal","scale":{"domain":["s","db","hl"],"range":["#000000","#F2BC3C","#EEF7FF"]},"legend":null}}},
{"data":{"name":"pl"},"mark":{"type":"text","fontSize":11,"font":"Liberation Sans","align":"left","baseline":"middle"},
 "encoding":{"x":{"field":"i","type":"quantitative"},"y":{"field":"p","type":"quantitative"},"text":{"field":"t"},
  "color":{"field":"k","type":"nominal","scale":{"domain":["R","yh","yc","pv","vw","yl"],"range":["#8EC5EE","#44DD44","#E8E830","#6A8FDC","#F0609F","#F04020"]},"legend":null}}},
{"data":{"name":"fl"},"mark":{"type":"text","fontSize":11,"font":"Liberation Sans","align":"center","baseline":"middle","color":"#2B2BC0"},
 "encoding":{"x":{"field":"i","type":"quantitative"},"y":{"field":"p","type":"quantitative"},"text":{"field":"t"}}},
{"data":{"values":[
  {"i":-1.5,"p":154.8831,"t":"ScrollsRite(ZB 12-17 (20 Min),10), ToolbarShortcutV1(ZB 12-17 (20 Min),True,True,True,True,True,True), PriceActionSwingPro(ZB 12-17 (20 Min),20,7,Standard,False), EMA(ZB 12-17 (20 Min),21), BarTimer(ZB 12-17 (20 Min)), anaPivotsDailyV43(ZB 12-17 (20 Min),Second,DailyClose,Floor,Auto,False,True,0,0,0), Depth&Sales V5.7"},
  {"i":-1.5,"p":153.2275,"t":"© 2017 NinjaTrader, LLC"}]},
 "mark":{"type":"text","fontSize":11,"font":"Liberation Sans","align":"left","baseline":"middle","color":"#000"},
 "encoding":{"x":{"field":"i","type":"quantitative"},"y":{"field":"p","type":"quantitative"},"text":{"field":"t"}}},
{"data":{"values":[{"i":179.2,"p":153.2334,"t":"Time remaining = 00:03:19"}]},
 "mark":{"type":"text","fontSize":11,"font":"Liberation Sans","align":"right","baseline":"middle","color":"#000"},
 "encoding":{"x":{"field":"i","type":"quantitative"},"y":{"field":"p","type":"quantitative"},"text":{"field":"t"}}},
{"data":{"values":[{"i":92.5,"p":154.9297,"t":"ZB 12-17 (20 Min)  11/21/2017"}]},
 "mark":{"type":"text","fontSize":14,"font":"Liberation Sans","align":"center","baseline":"middle","color":"#000","clip":false},
 "encoding":{"x":{"field":"i","type":"quantitative"},"y":{"field":"p","type":"quantitative"},"text":{"field":"t"}}},
{"data":{"values":[{"i":178.6,"p":154.871,"t":"▷|"}]},
 "mark":{"type":"text","fontSize":18,"font":"DejaVu Sans","align":"center","baseline":"middle","color":"#333333"},
 "encoding":{"x":{"field":"i","type":"quantitative"},"y":{"field":"p","type":"quantitative"},"text":{"field":"t"}}},
{"data":{"values":[{}]},"mark":{"type":"rect","fill":null,"fillOpacity":0,"stroke":"#000","strokeWidth":1,"clip":false},
 "encoding":{"x":{"datum":-1.83},"x2":{"datum":187.45},"y":{"datum":154.9053},"y2":{"datum":153.1378}}},
{"data":{"name":"flags"},"mark":{"type":"point","shape":"triangle-left","filled":true,"size":70,"opacity":1,"stroke":"#000","strokeWidth":0.8,"clip":false},
 "encoding":{"x":{"datum":180.95},"y":{"field":"p","type":"quantitative"},
  "fill":{"field":"k","type":"nominal","scale":{"domain":["R","sw","last","yh","ema","piv","vwap","yc","yl"],"range":["#87C5F0","#0B7D0B","#000000","#2EE62E","#FFA500","#6495ED","#F0609F","#FFFF00","#F04A10"]},"legend":null}}},
{"data":{"name":"flags"},"transform":[{"filter":"datum.k != 'sw' && datum.k != 'ema'"}],
 "mark":{"type":"bar","height":14,"stroke":"#000","strokeWidth":0.8,"clip":false},
 "encoding":{"x":{"datum":181.3},"x2":{"datum":184.95},"y":{"field":"p","type":"quantitative"},
  "fill":{"field":"k","type":"nominal","scale":{"domain":["R","sw","last","yh","ema","piv","vwap","yc","yl"],"range":["#87C5F0","#0B7D0B","#000000","#2EE62E","#FFA500","#6495ED","#F0609F","#FFFF00","#F04A10"]},"legend":null}}},
{"data":{"name":"flags"},"transform":[{"filter":"datum.k == 'sw' || datum.k == 'ema'"}],
 "mark":{"type":"bar","height":14,"stroke":"#000","strokeWidth":0.8,"clip":false},
 "encoding":{"x":{"datum":181.3},"x2":{"datum":186.9},"y":{"field":"p","type":"quantitative"},
  "fill":{"field":"k","type":"nominal","scale":{"domain":["R","sw","last","yh","ema","piv","vwap","yc","yl"],"range":["#87C5F0","#0B7D0B","#000000","#2EE62E","#FFA500","#6495ED","#F0609F","#FFFF00","#F04A10"]},"legend":null}}},
{"data":{"name":"flags"},"mark":{"type":"text","fontSize":11,"font":"Liberation Sans","align":"left","baseline":"middle","clip":false},
 "encoding":{"x":{"datum":181.55},"y":{"field":"p","type":"quantitative"},"text":{"field":"lbl"},
  "color":{"field":"k","type":"nominal","scale":{"domain":["R","sw","last","yh","ema","piv","vwap","yc","yl"],"range":["#000000","#FFFFFF","#FFFFFF","#000000","#000000","#000000","#000000","#000000","#FFFFFF"]},"legend":null}}}
]
}
